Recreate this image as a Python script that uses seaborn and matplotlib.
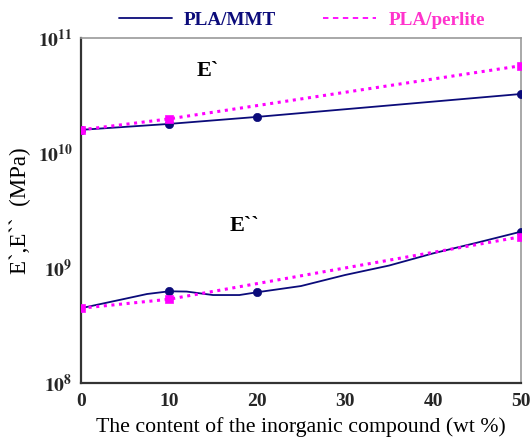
import matplotlib
matplotlib.use("Agg")
import matplotlib.pyplot as plt
import seaborn as sns
import pandas as pd
from matplotlib.lines import Line2D

# ---- data ----
x_main = [0, 10, 20, 50]
mmt_e1 = [1.59e10, 1.79e10, 2.06e10, 3.26e10]          # E' PLA/MMT
perl_e1_x = [0, 10, 50]
perl_e1 = [1.59e10, 1.98e10, 5.74e10]                  # E' PLA/perlite
mmt_e2_x = [0, 5, 7.5, 10, 12, 15, 18, 20, 25, 30, 35, 40, 45, 50]
mmt_e2 = [4.47e8, 5.4e8, 5.94e8, 6.27e8, 6.24e8, 5.82e8, 5.82e8, 6.15e8,
          6.97e8, 8.69e8, 1.05e9, 1.34e9, 1.66e9, 2.07e9]  # E'' PLA/MMT
mmt_e2_marker_x = [10, 20, 50]
mmt_e2_marker = [6.27e8, 6.15e8, 2.07e9]
perl_e2_x = [0, 10, 50]
perl_e2 = [4.47e8, 5.35e8, 1.87e9]                    # E'' PLA/perlite

xticks = [0, 10, 20, 30, 40, 50]
yticks = [1e8, 1e9, 1e10, 1e11]
ytick_labels = [r"$\mathbf{10^{8}}$", r"$\mathbf{10^{9}}$",
                r"$\mathbf{10^{10}}$", r"$\mathbf{10^{11}}$"]
series_names = ["PLA/MMT", "PLA/perlite"]

NAVY = "#0b0b7a"
MAG = "#ff00ff"
MAG_TXT = "#ff33cc"

sns.set_theme(style="white")
plt.rcParams["font.family"] = ["Liberation Serif", "DejaVu Serif"]
plt.rcParams["mathtext.fontset"] = "stix"

fig = plt.figure(figsize=(5.32, 4.38), dpi=100)
ax = fig.add_axes([81/532, 1-383/438, 440/532, 345/438])

# lines
sns.lineplot(x=x_main, y=mmt_e1, ax=ax, color=NAVY, lw=1.3, zorder=3)
sns.lineplot(x=perl_e1_x, y=perl_e1, ax=ax, color=MAG, lw=2.2,
             linestyle=(0, (1.0, 1.5)), zorder=3)
sns.lineplot(x=mmt_e2_x, y=mmt_e2, ax=ax, color=NAVY, lw=1.3, zorder=3)
sns.lineplot(x=perl_e2_x, y=perl_e2, ax=ax, color=MAG, lw=2.2,
             linestyle=(0, (1.0, 1.5)), zorder=3)

# markers
sns.scatterplot(x=x_main, y=mmt_e1, ax=ax, color=NAVY, marker="o", s=36,
                edgecolor=NAVY, zorder=4)
sns.scatterplot(x=mmt_e2_marker_x, y=mmt_e2_marker, ax=ax, color=NAVY,
                marker="o", s=36, edgecolor=NAVY, zorder=4)
sns.scatterplot(x=perl_e1_x, y=perl_e1, ax=ax, color=MAG, marker="s", s=34,
                edgecolor=MAG, zorder=5)
sns.scatterplot(x=perl_e2_x, y=perl_e2, ax=ax, color=MAG, marker="s", s=34,
                edgecolor=MAG, zorder=5)

ax.set_yscale("log")
ax.set_xlim(0, 50)
ax.set_ylim(1e8, 1e11)
ax.set_xticks(xticks)
ax.set_xticklabels([str(t) for t in xticks], fontweight="bold", fontsize=14)
ax.set_yticks(yticks)
ax.set_yticklabels(ytick_labels, fontsize=14)
ax.minorticks_off()
ax.tick_params(axis="both", direction="in", length=4, width=1.2, color="#333333",
               top=False, right=False, pad=6)
ax.tick_params(axis="x", pad=7)

for side in ["left", "bottom"]:
    ax.spines[side].set_color("#333333")
    ax.spines[side].set_linewidth(1.6)
for side in ["top", "right"]:
    ax.spines[side].set_color("#999999")
    ax.spines[side].set_linewidth(1.2)

ax.set_xlabel("The content of the inorganic compound (wt %)", fontsize=15.7,
              color="black", labelpad=5)
ax.set_ylabel("E`,E``  (MPa)", fontsize=16.5, color="black", labelpad=5)

ax.text(14.4, 5.2e10, "E`", fontsize=16, fontweight="bold", ha="center",
        va="center", color="black")
ax.text(18.6, 2.3e9, "E``", fontsize=16, fontweight="bold", ha="center",
        va="center", color="black")

handles = [Line2D([], [], color=NAVY, lw=1.3),
           Line2D([], [], color=MAG, lw=1.3, linestyle=(0, (3, 2.5)))]
leg = fig.legend(handles, series_names, loc="center", ncol=2,
                 bbox_to_anchor=(302/532, 1-20/438), frameon=False,
                 handlelength=2.76, columnspacing=2.45, handletextpad=0.65,
                 prop={"weight": "bold", "size": 13.8})
for t, c in zip(leg.get_texts(), [NAVY, MAG_TXT]):
    t.set_color(c)

fig.savefig("out.png", dpi=100)
